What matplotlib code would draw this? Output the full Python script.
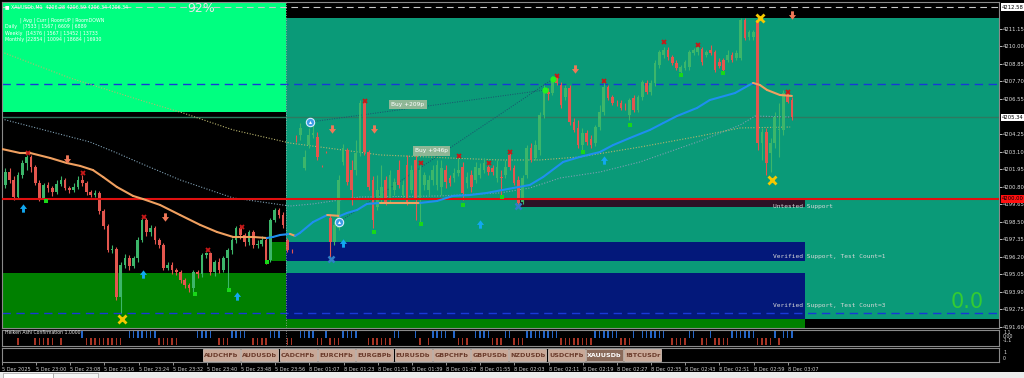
import numpy as np
import matplotlib.pyplot as plt
from matplotlib.patches import Rectangle
from matplotlib.collections import LineCollection

plt.rcParams['font.family'] = ['DejaVu Sans']

# ---------------- data (XAUUSDb M1, bar 0 = 5 Dec 22:52) ----------------
opens = [
    4201.43, 4200.91, 4201.76, 4201.24, 4200.12, 4201.57, 4202.35, 4202.75, 4202.09, 4201.04,
    4200.06, 4200.91, 4200.71, 4200.45, 4200.98, 4201.24, 4200.71, 4200.58, 4200.78, 4201.24,
    4201.04, 4200.45, 4200.25, 4200.39, 4199.20, 4198.22, 4196.65, 4196.71, 4193.57, 4195.66,
    4196.12, 4195.60, 4196.12, 4197.30, 4198.62, 4197.83, 4198.09, 4197.30, 4196.98, 4195.47,
    4195.66, 4195.34, 4195.21, 4194.68, 4194.35, 4194.16, 4195.21, 4195.07, 4196.32, 4196.45,
    4195.21, 4195.86, 4195.34, 4196.12, 4196.65, 4197.30, 4198.09, 4197.63, 4197.17, 4197.83,
    4196.98, 4197.04, 4197.30, 4196.00, 4198.62, 4199.27, 4198.94, 4197.30, 4196.58, 4203.86,
    4204.19, 4202.02, 4203.54, 4204.19, 4204.06, 4202.16, 4203.07, 4198.75, 4197.17, 4198.09,
    4202.42, 4203.21, 4201.89, 4201.89, 4203.01, 4206.29, 4203.07, 4201.24, 4199.47, 4199.93,
    4201.24, 4199.93, 4200.58, 4201.89, 4200.25, 4202.22, 4200.58, 4202.55, 4199.93, 4200.91,
    4200.58, 4201.24, 4200.91, 4200.78, 4201.89, 4201.37, 4201.37, 4201.70, 4202.09, 4201.04,
    4201.57, 4201.24, 4201.57, 4201.89, 4202.09, 4202.02, 4201.37, 4201.43, 4201.57, 4202.88,
    4202.02, 4201.24, 4199.80, 4201.57, 4203.34, 4202.68, 4203.21, 4205.50, 4207.01, 4206.94,
    4208.00, 4207.47, 4206.68, 4207.27, 4205.04, 4204.65, 4203.54, 4204.32, 4203.93, 4203.66,
    4204.71, 4205.70, 4207.34, 4206.68, 4206.29, 4206.29, 4206.02, 4205.50, 4206.61, 4205.83,
    4206.68, 4207.60, 4207.01, 4207.60, 4208.78, 4209.44, 4209.76, 4209.30, 4208.91, 4208.32,
    4208.58, 4208.65, 4209.57, 4209.63, 4209.83, 4209.44, 4209.76, 4209.63, 4208.98, 4209.11,
    4209.11, 4209.44, 4209.24, 4209.24, 4211.73, 4210.61, 4210.61, 4211.73, 4203.66, 4204.38,
    4203.01, 4203.66, 4204.52, 4204.52, 4206.94, 4206.48,
]
highs = [
    4201.76, 4202.02, 4202.02, 4201.50, 4201.76, 4202.55, 4202.88, 4202.88, 4202.22, 4201.24,
    4201.04, 4201.11, 4200.84, 4201.24, 4201.50, 4201.37, 4200.84, 4201.04, 4201.50, 4201.57,
    4201.17, 4200.58, 4200.58, 4200.52, 4199.34, 4198.35, 4196.98, 4196.84, 4195.86, 4196.39,
    4196.32, 4196.25, 4197.50, 4198.75, 4198.75, 4198.29, 4198.22, 4197.43, 4197.11, 4195.86,
    4195.86, 4195.47, 4195.34, 4194.81, 4194.48, 4195.34, 4195.34, 4196.45, 4196.52, 4196.52,
    4195.99, 4196.12, 4196.25, 4196.78, 4197.43, 4198.22, 4198.22, 4197.76, 4197.96, 4197.96,
    4197.30, 4197.56, 4197.43, 4198.75, 4199.40, 4199.40, 4199.14, 4197.43, 4196.71, 4204.19,
    4204.98, 4203.21, 4204.65, 4204.84, 4204.39, 4202.22, 4203.14, 4199.01, 4198.48, 4201.57,
    4203.60, 4203.34, 4202.55, 4203.86, 4206.48, 4206.48, 4203.21, 4201.50, 4201.57, 4202.22,
    4201.50, 4201.89, 4201.37, 4202.55, 4201.24, 4202.88, 4202.22, 4203.21, 4202.22, 4201.76,
    4201.57, 4202.22, 4202.55, 4202.55, 4202.22, 4201.57, 4202.02, 4202.68, 4202.42, 4201.76,
    4201.89, 4202.42, 4202.35, 4202.68, 4202.22, 4202.22, 4202.55, 4201.89, 4202.55, 4203.01,
    4202.22, 4201.50, 4201.57, 4203.54, 4203.66, 4203.86, 4205.70, 4207.47, 4207.27, 4208.06,
    4208.06, 4207.66, 4207.47, 4207.47, 4205.30, 4205.17, 4204.65, 4204.52, 4204.19, 4204.84,
    4206.16, 4207.60, 4207.47, 4206.81, 4206.48, 4206.48, 4206.29, 4206.61, 4206.81, 4206.81,
    4207.80, 4207.80, 4207.80, 4209.11, 4209.76, 4209.96, 4209.96, 4209.44, 4209.11, 4208.78,
    4209.11, 4209.76, 4209.89, 4210.09, 4209.96, 4209.76, 4210.09, 4209.76, 4209.24, 4209.24,
    4209.76, 4209.63, 4209.76, 4211.86, 4211.86, 4211.07, 4211.07, 4211.86, 4204.65, 4204.65,
    4203.99, 4205.70, 4206.29, 4207.14, 4207.14, 4206.68,
]
lows = [
    4200.58, 4200.71, 4201.04, 4199.93, 4199.99, 4201.37, 4201.89, 4201.76, 4200.91, 4199.86,
    4199.93, 4200.45, 4200.19, 4200.32, 4200.84, 4200.58, 4200.39, 4200.45, 4200.65, 4200.84,
    4200.25, 4200.12, 4200.12, 4199.01, 4198.02, 4196.52, 4196.45, 4193.37, 4192.52, 4195.47,
    4195.34, 4195.47, 4195.86, 4197.17, 4197.57, 4197.57, 4197.04, 4196.78, 4195.34, 4195.34,
    4195.07, 4195.01, 4194.48, 4194.16, 4193.89, 4193.83, 4194.81, 4194.88, 4196.12, 4195.01,
    4194.94, 4195.14, 4195.21, 4194.16, 4196.39, 4197.11, 4197.37, 4196.91, 4196.98, 4196.78,
    4196.78, 4196.91, 4195.73, 4195.86, 4198.48, 4198.75, 4198.09, 4196.52, 4196.45, 4203.73,
    4203.86, 4201.89, 4203.34, 4203.99, 4202.55, 4202.09, 4203.01, 4196.06, 4196.98, 4197.96,
    4202.22, 4200.91, 4199.60, 4201.57, 4202.81, 4202.88, 4200.58, 4198.09, 4199.27, 4199.73,
    4199.60, 4199.73, 4200.25, 4200.71, 4200.06, 4199.60, 4200.39, 4198.62, 4198.48, 4200.58,
    4200.25, 4200.91, 4200.58, 4200.25, 4200.71, 4200.84, 4201.11, 4201.50, 4199.93, 4200.71,
    4200.45, 4201.04, 4201.37, 4201.70, 4201.57, 4201.57, 4201.11, 4200.26, 4201.37, 4201.89,
    4200.91, 4199.60, 4199.67, 4201.37, 4202.42, 4202.55, 4202.88, 4205.30, 4206.48, 4206.81,
    4207.47, 4205.96, 4206.48, 4204.84, 4204.38, 4203.34, 4203.21, 4203.54, 4203.34, 4203.47,
    4204.52, 4205.50, 4206.48, 4206.16, 4206.09, 4205.83, 4205.83, 4205.17, 4205.70, 4205.70,
    4206.48, 4206.88, 4206.81, 4207.40, 4208.58, 4209.24, 4209.11, 4208.78, 4208.45, 4208.13,
    4208.45, 4208.45, 4209.44, 4209.44, 4208.78, 4209.30, 4209.44, 4208.32, 4208.58, 4208.32,
    4208.98, 4208.98, 4209.11, 4209.11, 4210.42, 4210.42, 4210.42, 4203.21, 4202.55, 4201.57,
    4201.76, 4203.34, 4202.75, 4204.19, 4206.29, 4205.17,
]
closes = [
    4200.91, 4201.76, 4201.24, 4200.12, 4201.57, 4202.35, 4202.75, 4202.09, 4201.04, 4200.06,
    4200.91, 4200.71, 4200.45, 4200.98, 4201.24, 4200.71, 4200.58, 4200.78, 4201.24, 4201.04,
    4200.45, 4200.25, 4200.39, 4199.20, 4198.22, 4196.65, 4196.71, 4193.57, 4195.66, 4196.12,
    4195.60, 4196.12, 4197.30, 4198.62, 4197.83, 4198.09, 4197.30, 4196.98, 4195.47, 4195.66,
    4195.34, 4195.21, 4194.68, 4194.35, 4194.16, 4195.21, 4195.07, 4196.32, 4196.45, 4195.21,
    4195.86, 4195.34, 4196.12, 4196.65, 4197.30, 4198.09, 4197.63, 4197.17, 4197.83, 4196.98,
    4197.04, 4197.30, 4195.86, 4198.62, 4199.27, 4198.94, 4198.29, 4196.65, 4196.55, 4203.84,
    4204.65, 4202.75, 4204.19, 4204.32, 4202.75, 4202.13, 4203.04, 4197.17, 4198.29, 4201.24,
    4203.34, 4201.11, 4200.58, 4203.01, 4206.29, 4203.07, 4200.78, 4198.62, 4200.58, 4200.78,
    4199.73, 4201.57, 4201.11, 4200.91, 4200.91, 4199.73, 4201.89, 4199.93, 4201.89, 4201.57,
    4201.24, 4201.89, 4202.22, 4202.02, 4201.11, 4201.04, 4201.70, 4201.89, 4200.39, 4201.43,
    4200.78, 4202.09, 4202.02, 4202.35, 4201.76, 4201.76, 4202.09, 4201.40, 4202.09, 4202.09,
    4201.04, 4199.73, 4201.37, 4203.34, 4202.55, 4203.54, 4205.50, 4207.27, 4206.88, 4207.93,
    4207.60, 4206.15, 4207.27, 4205.04, 4204.52, 4203.54, 4204.32, 4203.73, 4203.54, 4204.71,
    4205.70, 4207.34, 4206.61, 4206.29, 4206.27, 4205.96, 4206.00, 4206.48, 4205.83, 4206.68,
    4207.66, 4207.01, 4207.60, 4208.91, 4209.63, 4209.76, 4209.30, 4208.91, 4208.58, 4208.65,
    4208.98, 4209.63, 4209.76, 4209.96, 4208.98, 4209.63, 4209.57, 4208.45, 4208.71, 4208.45,
    4209.44, 4209.11, 4209.57, 4211.73, 4210.55, 4210.94, 4210.94, 4203.66, 4204.38, 4202.35,
    4203.66, 4205.37, 4204.58, 4206.94, 4206.35, 4205.34,
]

# Heiken Ashi confirmation: 1 blue, -1 red, 0 none
ha_signal = [
    1, 0, 0, 0, -1, 0, 0, 0, -1, -1,
    -1, -1, -1, 0, -1, 0, 0, 0, 0, 1,
    -1, -1, -1, -1, -1, -1, -1, -1, -1, 0,
    1, 1, 1, 1, 1, 1, 1, -1, -1, -1,
    -1, -1, 0, 0, 0, 0, 1, 1, 1, 1,
    0, -1, -1, -1, 1, 1, 1, 1, 0, -1,
    -1, -1, -1, 1, 1, 1, 0, -1, -1, 0,
    1, 1, 1, 1, -1, -1, 1, -1, -1, -1,
    1, 1, 1, 1, 0, 0, -1, -1, -1, -1,
    -1, -1, 1, 1, 0, 0, 0, 1, -1, 0,
    -1, 1, 1, 1, 1, 0, 1, -1, -1, -1,
    0, 1, 1, 1, 1, -1, -1, -1, 1, 1,
    -1, -1, -1, 1, 1, 1, 1, 1, 1, 1,
    1, -1, -1, -1, -1, -1, -1, -1, -1, 1,
    1, 1, 1, 1, 1, -1, -1, -1, 1, 0,
    1, 1, 1, 1, 1, 1, 0, -1, -1, -1,
    -1, 1, 1, 0, -1, -1, 1, -1, -1, -1,
    -1, 1, 1, 1, 1, 1, 1, -1, -1, -1,
    -1, 1, -1, 1, 1, 1,
]

# fast moving average (thick, blue rising / orange falling)
ma_idx = [0.2, 4.4, 6.8, 11.5, 15.4, 18.5, 21.5, 23.9, 27.1, 30.9, 33.2, 37.2, 41.9, 46.6,
          50.5, 54.3, 59.0, 62.2, 63.6, 65.3, 67.6, 68.8, 69.9, 73.0, 76.3, 79.3, 80.9, 83.3,
          85.6, 88.7, 93.3, 98.0, 102.0, 105.7, 109.7, 113.7, 119.8, 123.7, 126.8, 131.5,
          135.4, 140.1, 143.2, 147.1, 151.8, 154.9, 158.1, 162.8, 165.8, 171.7, 175.9, 177.5,
          179.2, 182.2, 185.0]
ma_val = [4203.27, 4203.01, 4203.01, 4202.68, 4202.35, 4202.16, 4201.89, 4201.43, 4200.78,
          4200.19, 4199.99, 4199.60, 4198.94, 4198.29, 4197.83, 4197.50, 4197.50, 4197.43,
          4197.50, 4197.63, 4197.70, 4197.57, 4197.76, 4198.48, 4198.94, 4198.88, 4199.07,
          4199.27, 4199.67, 4199.73, 4199.73, 4199.73, 4199.86, 4200.19, 4200.25, 4200.39,
          4200.71, 4200.91, 4201.43, 4202.42, 4202.75, 4203.07, 4203.53, 4203.99, 4204.52,
          4204.97, 4205.43, 4205.96, 4206.48, 4206.94, 4207.60, 4207.47, 4207.14, 4206.81,
          4206.75]

# slow averages (dotted)
slow1_idx = [0.2, 20.8, 27.1, 32.5, 41.9, 54.3, 67.6, 73.0, 84.0, 102.7, 116.7, 123.7,
             130.8, 140.1, 149.5, 163.5, 172.9, 176.4, 184.6]
slow1_val = [4205.24, 4203.73, 4203.01, 4202.35, 4201.24, 4200.06, 4199.53, 4199.67, 4200.12,
             4200.19, 4200.39, 4200.71, 4201.37, 4201.76, 4202.42, 4203.79, 4204.84, 4205.43,
             4205.37]
slow2_idx = [0.2, 16.1, 32.5, 42.6, 54.3, 67.6, 88.7, 105.0, 116.7, 126.1, 135.4, 149.5,
             163.5, 172.9, 184.6]
slow2_val = [4209.63, 4207.93, 4206.48, 4205.63, 4204.52, 4203.66, 4202.88, 4202.68, 4202.55,
             4202.55, 4202.75, 4203.40, 4204.12, 4204.65, 4204.71]

# zones: start bar, end bar, low, high
zone_x0 = [0.0, 66.6, 0.0, 62.9, 66.6, 66.6, 66.6, 121.4]
zone_x1 = [66.6, 240.0, 66.6, 66.6, 188.1, 188.1, 188.1, 188.1]
zone_lo = [4205.70, 4192.12, 4190.00, 4195.93, 4195.93, 4192.12, 4190.00, 4199.45]
zone_hi = [4214.00, 4211.86, 4195.14, 4197.17, 4197.17, 4195.14, 4192.12, 4199.97]
zone_col = ['#00ff80', '#0a9a78', '#008000', '#008000', '#03187a', '#03187a', '#008000', '#2c1226']

# signal markers (bar index, price)
dn_arrow_i = [15.4, 38.4, 77.4, 87.3, 134.3, 185.0]
dn_arrow_p = [4202.61, 4198.81, 4204.58, 4204.58, 4208.52, 4212.06]
up_arrow_i = [5.1, 33.2, 55.2, 80.0, 112.0, 141.1]
up_arrow_p = [4199.40, 4195.07, 4193.63, 4197.11, 4198.35, 4202.55]
red_x_i = [6.3, 19.2, 33.5, 48.4, 56.4, 85.1, 98.2, 107.1, 114.2, 119.1, 130.1, 141.1, 155.1, 163.0, 184.1]
red_x_p = [4203.01, 4201.70, 4198.81, 4196.65, 4198.16, 4206.42, 4202.35, 4202.81, 4202.35,
           4203.07, 4208.06, 4207.73, 4210.29, 4210.09, 4207.01]
grn_sq_i = [10.5, 45.4, 53.3, 62.2, 87.3, 98.2, 108.1, 117.2, 136.1, 147.1, 159.1, 168.9]
grn_sq_p = [4199.86, 4193.76, 4194.02, 4195.86, 4197.83, 4198.35, 4199.60, 4200.12, 4203.07,
            4204.84, 4208.12, 4208.25]
yel_x_i = [28.3, 177.5, 180.4]
yel_x_p = [4192.12, 4211.86, 4201.24]
blu_x_i = [77.2, 120.9]
blu_x_p = [4196.06, 4199.53]
entry_i = [72.3, 79.1]
entry_p = [4205.04, 4198.48]
exit_i = [127.3, 129.1]
exit_p = [4207.14, 4207.86]
trade_text = ['Buy +209p', 'Buy +946p']
trade_text_i = [95.2, 100.8]
trade_text_p = [4206.16, 4203.14]

zone_labels = ['Untested Support', 'Verified Support, Test Count=1', 'Verified Support, Test Count=3']
zone_label_p = [4199.47, 4196.25, 4192.98]

price_ticks = [4211.15, 4210.00, 4208.85, 4207.70, 4206.55, 4204.25, 4203.10, 4201.95,
               4200.80, 4199.65, 4198.50, 4197.35, 4196.20, 4195.05, 4193.90, 4192.75, 4191.60]
time_labels = ['5 Dec 2025', '5 Dec 23:00', '5 Dec 23:08', '5 Dec 23:16', '5 Dec 23:24',
               '5 Dec 23:32', '5 Dec 23:40', '5 Dec 23:48', '5 Dec 23:56', '8 Dec 01:07',
               '8 Dec 01:23', '8 Dec 01:31', '8 Dec 01:39', '8 Dec 01:47', '8 Dec 01:55',
               '8 Dec 02:03', '8 Dec 02:11', '8 Dec 02:19', '8 Dec 02:27', '8 Dec 02:35',
               '8 Dec 02:43', '8 Dec 02:51', '8 Dec 02:59', '8 Dec 03:07']
pairs = ['AUDCHFb', 'AUDUSDb', 'CADCHFb', 'EURCHFb', 'EURGBPb', 'EURUSDb', 'GBPCHFb',
         'GBPUSDb', 'NZDUSDb', 'USDCHFb', 'XAUUSDb', '!BTCUSDr']

last_price = 4205.34
round_level = 4200.00
top_level = 4212.58
blue_levels = [4207.55, 4192.50]
session_break = 66.6

# ---------------- layout ----------------
W, H = 1024, 378


def frect(x0, y0, x1, y1):
    return [x0 / W, 1 - y1 / H, (x1 - x0) / W, (y1 - y0) / H]


fig = plt.figure(figsize=(W / 100, H / 100), dpi=100, facecolor='black')
ax = fig.add_axes(frect(2, 2, 999, 328), facecolor='black')
axh = fig.add_axes(frect(2, 330, 999, 346), facecolor='black')
axb = fig.add_axes(frect(2, 348, 999, 362), facecolor='black')

x_lo, x_hi = (2 - 1) / 4.275, (999 - 1) / 4.275
for a in (ax, axh, axb):
    a.set_xlim(x_lo, x_hi)
    for s in a.spines.values():
        s.set_color('#8a8a8a')
        s.set_linewidth(0.8)
    a.axvline(session_break, color='#b0b0b0', ls=(0, (1, 2)), lw=0.6, zorder=6)
ax.set_ylim(4191.53, 4212.91)

# zones
for x0, x1, lo, hi, c in zip(zone_x0, zone_x1, zone_lo, zone_hi, zone_col):
    ax.add_patch(Rectangle((x0, lo), x1 - x0, hi - lo, facecolor=c, edgecolor='none', zorder=0))

# levels
ax.axhline(top_level, color='#c8c8c8', lw=0.8, ls=(0, (6, 4)), zorder=2)
ax.axhline(last_price, color='#2d7a60', lw=1.0, zorder=2)
for lv in blue_levels:
    ax.axhline(lv, color='#1838d8', lw=1.0, ls=(0, (6, 4)), zorder=2)

# slow dotted averages
ax.plot(slow1_idx, slow1_val, color='#7f9fb3', lw=0.8, ls=(0, (1, 1.5)), zorder=2)
ax.plot(slow2_idx, slow2_val, color='#b9b46e', lw=0.8, ls=(0, (1, 1.5)), zorder=2)

# trade lines
for i0, p0, i1, p1 in zip(entry_i, entry_p, exit_i, exit_p):
    ax.plot([i0, i1], [p0, p1], color='#1b4f6e', lw=0.7, ls=(0, (1, 1.5)), zorder=3)

# candles
o = np.array(opens)
h = np.array(highs)
l = np.array(lows)
c = np.array(closes)
idx = np.arange(len(c))
cols = np.where(c >= o, '#3cb66a', '#e4564e')
ax.vlines(idx, l, h, colors=cols, lw=0.8, zorder=4)
ax.bar(idx, np.maximum(np.abs(c - o), 0.04), bottom=np.minimum(o, c), width=0.62,
       color=cols, lw=0, zorder=5)

ax.axhline(round_level, color='#e01010', lw=1.5, zorder=6)

# fast MA coloured by slope
pts = np.column_stack([ma_idx, ma_val])
segs = np.stack([pts[:-1], pts[1:]], axis=1)
seg_cols = ['#1e8ff0' if b > a else '#f0a060' for a, b in zip(ma_val[:-1], ma_val[1:])]
ax.add_collection(LineCollection(segs, colors=seg_cols, linewidths=1.5, zorder=7,
                                 capstyle='round'))

# markers
dn_shape = [(-0.35, 1), (0.35, 1), (0.35, 0.1), (0.85, 0.1), (0, -1), (-0.85, 0.1), (-0.35, 0.1)]
up_shape = [(x, -y) for x, y in dn_shape]
ax.plot(dn_arrow_i, dn_arrow_p, ls='none', marker=dn_shape, ms=6, color='#f07858', mew=0, zorder=8)
ax.plot(up_arrow_i, up_arrow_p, ls='none', marker=up_shape, ms=6, color='#12a8f0', mew=0, zorder=8)
ax.plot(red_x_i, red_x_p, ls='none', marker='x', ms=3, mew=1.3, color='#c81818', zorder=8)
ax.plot(grn_sq_i, grn_sq_p, ls='none', marker='s', ms=2.8, color='#18d818', mew=0, zorder=8)
ax.plot(yel_x_i, yel_x_p, ls='none', marker='x', ms=6, mew=2.0, color='#f5c800', zorder=8)
ax.plot(blu_x_i, blu_x_p, ls='none', marker='x', ms=4.5, mew=1.8, color='#2f7fc8', zorder=8)
ax.plot(entry_i, entry_p, ls='none', marker='o', ms=6, mfc='#3f9ce8', mec='#d8ecff', mew=0.8, zorder=8)
ax.plot(entry_i, entry_p, ls='none', marker='^', ms=2.2, color='white', mew=0, zorder=9)
ax.plot(exit_i, exit_p, ls='none', marker='o', ms=4.5, color='#22f022', mew=0, zorder=8)

for t, xi, p in zip(trade_text, trade_text_i, trade_text_p):
    ax.text(xi, p, t, fontsize=4.2, color='white', ha='center', va='center', zorder=9,
            bbox=dict(boxstyle='square,pad=0.35', fc='#8fb796', ec='none'))

for t, p in zip(zone_labels, zone_label_p):
    ax.text(180.6, p, t, fontsize=4.5, family='DejaVu Sans Mono', color='#d8d8d8',
            va='center', ha='left', zorder=9)
ax.text(0.985, 0.08, '0.0', transform=ax.transAxes, fontsize=15, color='#33cc33',
        ha='right', va='center', zorder=9)

# price axis
ax.yaxis.tick_right()
ax.set_yticks(price_ticks)
ax.set_yticklabels(['%.2f' % p for p in price_ticks])
ax.tick_params(axis='y', colors='#e0e0e0', labelsize=3.8, length=2, width=0.6, pad=1)
ax.set_xticks([])
for p, fc, tc in [(top_level, 'white', 'black'), (last_price, 'white', 'black'),
                  (round_level, '#ff1010', 'black')]:
    ax.text(1.003, p, '%.2f' % p, transform=ax.get_yaxis_transform(), fontsize=3.8,
            color=tc, va='center', ha='left', clip_on=False, zorder=10,
            bbox=dict(boxstyle='square,pad=0.25', fc=fc, ec='none'))

# Heiken Ashi confirmation panel
sig = np.array(ha_signal)
axh.bar(idx[sig > 0], 1.0, width=0.35, color='#2466c8', lw=0)
axh.bar(idx[sig < 0], -1.0, width=0.35, color='#a83424', lw=0)
axh.set_ylim(-1.15, 1.15)
axh.set_xticks([])
axh.set_yticks([])
axh.text(0.003, 0.82, 'Heiken Ashi Confirmation 1.0000', transform=axh.transAxes,
         fontsize=3.3, color='#e8e8e8', va='center')

# button panel with time axis
axb.set_ylim(0, 1)
axb.set_yticks([])
axb.set_xticks(idx[::8])
axb.set_xticklabels(time_labels)
axb.tick_params(axis='x', colors='#d0d0d0', labelsize=3.6, length=2, width=0.5, pad=1.5)
for lab in axb.get_xticklabels():
    lab.set_ha('left')

# overlay for interface texts
ui = fig.add_axes([0, 0, 1, 1], zorder=20)
ui.set_xlim(0, W)
ui.set_ylim(H, 0)
ui.axis('off')
ui.patch.set_alpha(0)

ui.text(5, 7, '\u25a0 XAUUSDb,M1  4206.28 4206.59 4206.34 4206.34', fontsize=3.4,
        color='white', va='center')
ui.text(187, 8, '92%', fontsize=9, color='#e8e8e8', va='center')
info = ['          | Avg | Curr | RoomUP | RoomDOWN',
        'Daily    |7533 | 1567 | 6609 | 6889',
        'Weekly  |14376 | 1567 | 13452 | 13733',
        'Monthly |22854 | 10094 | 18684 | 16930']
for k, line in enumerate(info):
    ui.text(5, 20 + k * 6.5, line, fontsize=3.4, color='white', va='center')

for lab, yy in [('1.1', 332), ('0.00', 336.5), ('-1.1', 341), ('1', 352), ('0', 359)]:
    ui.text(1003, yy, lab, fontsize=3.4, color='#e0e0e0', va='center')

for k, name in enumerate(pairs):
    x0 = 203 + k * 38.3
    sel = name == 'XAUUSDb'
    ui.add_patch(Rectangle((x0, 349), 37, 12, fc='#8a6a5a' if sel else '#c9a998',
                           ec='#e6d6cc', lw=0.5))
    ui.text(x0 + 18.5, 355.2, name, fontsize=4.6, fontweight='bold', ha='center', va='center',
            color='white' if sel else '#6a3a2a')

ui.add_patch(Rectangle((0, 372), W, 6, fc='#ececec', ec='none'))
ui.add_patch(Rectangle((3, 372.5), 50, 5.5, fc='white', ec='#a0a0a0', lw=0.5))
ui.add_patch(Rectangle((53, 372.5), 45, 5.5, fc='#f4f4f4', ec='#a0a0a0', lw=0.5))

fig.savefig('out.png', dpi=100, facecolor='black')
